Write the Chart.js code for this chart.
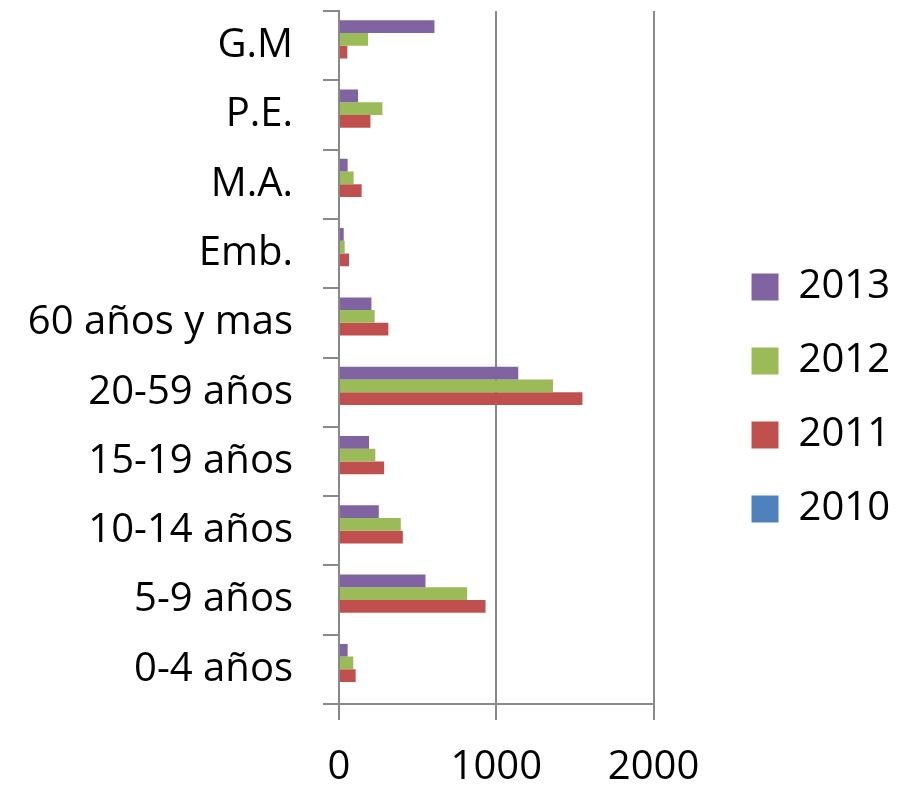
<!DOCTYPE html>
<html>
<head>
<meta charset="utf-8">
<script src="https://cdn.jsdelivr.net/npm/chart.js@4"></script>
<style>
  html, body { margin: 0; padding: 0; background: #fff; }
  #wrap { width: 900px; height: 785px; }
</style>
</head>
<body>
<div id="wrap"><canvas id="grafico" width="900" height="785"></canvas></div>
<script>
// categorias de arriba hacia abajo
const categorias = ['G.M', 'P.E.', 'M.A.', 'Emb.', '60 años y mas', '20-59 años', '15-19 años', '10-14 años', '5-9 años', '0-4 años'];

const datos2013 = [607, 121, 55, 30, 206, 1140, 191, 253, 550, 55];
const datos2012 = [185, 276, 93, 36, 227, 1361, 231, 393, 815, 91];
const datos2011 = [53, 200, 144, 64, 314, 1548, 287, 406, 932, 106];
const datos2010 = [0, 0, 0, 0, 0, 0, 0, 0, 0, 0];

const ticksX = [0, 1000, 2000];

const gris = '#898989';

Chart.defaults.font.family = "'Open Sans', sans-serif";
Chart.defaults.color = '#000';

// mueve la leyenda hacia la derecha, dejando espacio libre junto al grafico
const moverLeyenda = {
    id: 'moverLeyenda',
    afterLayout(chart) {
        const ley = chart.legend;
        if (ley) {
            ley.left += 64;
            ley.right += 64;
        }
    }
};

const ctx = document.getElementById('grafico').getContext('2d');

new Chart(ctx, {
    type: 'bar',
    data: {
        labels: categorias,
        datasets: [
            { label: '2013', data: datos2013, backgroundColor: '#8064A2' },
            { label: '2012', data: datos2012, backgroundColor: '#9BBB59' },
            { label: '2011', data: datos2011, backgroundColor: '#C0504D' },
            { label: '2010', data: datos2010, backgroundColor: '#4F81BD' }
        ]
    },
    options: {
        indexAxis: 'y',
        responsive: false,
        animation: false,
        barPercentage: 1,
        categoryPercentage: 0.735,
        layout: {
            padding: { top: 11, left: 0, right: 64, bottom: 0 }
        },
        scales: {
            x: {
                min: ticksX[0],
                max: ticksX[ticksX.length - 1],
                afterBuildTicks: function (scale) {
                    scale.ticks = ticksX.map(v => ({ value: v }));
                },
                afterFit: function (scale) {
                    scale.height = 81;
                    scale.paddingLeft = 0;
                    scale.paddingRight = 0;
                },
                grid: {
                    color: gris,
                    lineWidth: 2,
                    tickLength: 16,
                    drawOnChartArea: true
                },
                border: { display: true, color: gris, width: 2 },
                ticks: {
                    font: { size: 40 },
                    padding: 24,
                    maxRotation: 0,
                    callback: function (value) {
                        return String(value);
                    }
                }
            },
            y: {
                afterFit: function (scale) {
                    scale.width = 339;
                    scale.paddingTop = 0;
                    scale.paddingBottom = 0;
                },
                grid: {
                    color: gris,
                    lineWidth: 2,
                    tickLength: 16,
                    drawOnChartArea: false,
                    offset: true
                },
                border: { display: true, color: gris, width: 2 },
                ticks: {
                    font: { size: 40 },
                    padding: 30,
                    autoSkip: false
                }
            }
        },
        plugins: {
            legend: {
                position: 'right',
                labels: {
                    boxWidth: 27,
                    boxHeight: 27,
                    padding: 34,
                    font: { size: 40 }
                }
            },
            tooltip: { enabled: false }
        }
    },
    plugins: [moverLeyenda]
});
</script>
</body>
</html>
